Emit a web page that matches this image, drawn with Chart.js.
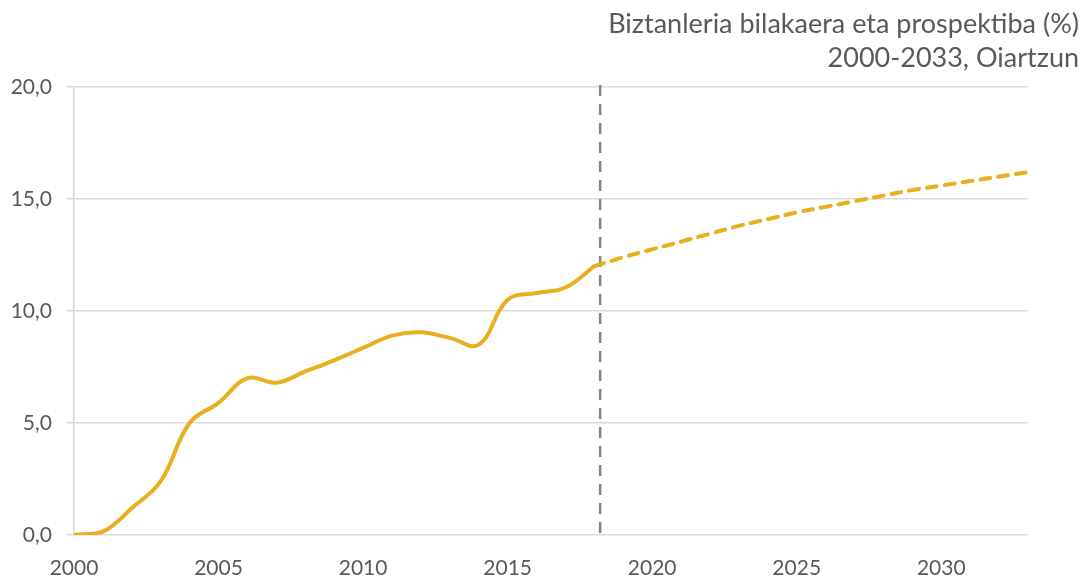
<!DOCTYPE html>
<html>
<head>
<meta charset="utf-8">
<script src="https://cdn.jsdelivr.net/npm/chart.js@4/dist/chart.umd.min.js"></script>
<style>
  html, body { margin: 0; padding: 0; background: #ffffff; }
  #wrap { position: relative; width: 1089px; height: 581px; }
</style>
</head>
<body>
<div id="wrap"><canvas id="c" width="1089" height="581"></canvas></div>
<script>
// ---- Data ----
const titleLines = ['Biztanleria bilakaera eta prospektiba (%)', '2000-2033, Oiartzun'];
const actualYears = [2000, 2001, 2002, 2003, 2004, 2005, 2006, 2007, 2008, 2009, 2010, 2011, 2012, 2013, 2014, 2015, 2016, 2017, 2018];
const actualValues = [0, 0.15, 1.2, 2.4, 5.0, 5.9, 7.0, 6.8, 7.3, 7.8, 8.35, 8.9, 9.05, 8.8, 8.5, 10.5, 10.8, 11.05, 12.0];
const projYears = [2018, 2019, 2020, 2021, 2022, 2023, 2024, 2025, 2026, 2027, 2028, 2029, 2030, 2031, 2032, 2033];
const projValues = [12.0, 12.4, 12.75, 13.1, 13.45, 13.8, 14.1, 14.4, 14.65, 14.9, 15.15, 15.4, 15.6, 15.8, 16.0, 16.2];
const separatorYear = 2018.2;
const xMin = 2000, xMax = 2033, xStep = 5;
const yMin = 0, yMax = 20, yStep = 5;

// ---- Styles ----
const lineColor = '#E8AF1E';
const textColor = '#595959';
const gridColor = '#D9D9D9';
const fontFamily = 'Lato, "Open Sans", sans-serif';

const actualPts = actualYears.map((x, i) => ({ x, y: actualValues[i] }));
const projPts = projYears.map((x, i) => ({ x, y: projValues[i] }));

const separatorPlugin = {
  id: 'separator',
  beforeDatasetsDraw(chart) {
    const { ctx, chartArea, scales } = chart;
    const px = scales.x.getPixelForValue(separatorYear);
    ctx.save();
    ctx.strokeStyle = '#878387';
    ctx.lineWidth = 2.5;
    ctx.setLineDash([11, 8]);
    ctx.beginPath();
    ctx.moveTo(px, chartArea.top - 2);
    ctx.lineTo(px, chartArea.bottom + 4);
    ctx.stroke();
    ctx.restore();
  }
};

const titlePlugin = {
  id: 'cornerTitle',
  afterDraw(chart) {
    const ctx = chart.ctx;
    ctx.save();
    ctx.fillStyle = textColor;
    ctx.font = '27px ' + fontFamily;
    ctx.textAlign = 'right';
    ctx.textBaseline = 'alphabetic';
    ctx.fillText(titleLines[0], 1079, 33);
    ctx.fillText(titleLines[1], 1079, 67);
    ctx.restore();
  }
};

new Chart(document.getElementById('c'), {
  type: 'line',
  data: {
    datasets: [
      {
        data: actualPts,
        borderColor: lineColor,
        borderWidth: 4,
        tension: 0.4,
        pointRadius: 0,
        fill: false,
        borderCapStyle: 'round'
      },
      {
        data: projPts,
        borderColor: lineColor,
        borderWidth: 4,
        tension: 0.4,
        pointRadius: 0,
        fill: false,
        borderDash: [10, 8],
        borderCapStyle: 'round'
      }
    ]
  },
  options: {
    responsive: false,
    animation: false,
    layout: { padding: { top: 87, right: 61, left: 0, bottom: 0 } },
    plugins: { legend: { display: false }, tooltip: { enabled: false }, title: { display: false } },
    scales: {
      x: {
        type: 'linear',
        min: xMin, max: xMax,
        grid: { display: false, drawTicks: false },
        border: { display: false },
        ticks: {
          stepSize: xStep,
          includeBounds: false,
          autoSkip: false,
          maxRotation: 0,
          padding: 21,
          color: textColor,
          font: { family: fontFamily, size: 21 },
          callback: v => String(v)
        },
        afterFit: s => { s.height = 46; }
      },
      y: {
        min: yMin, max: yMax,
        grid: { color: gridColor, lineWidth: 1.5, drawTicks: true, tickLength: 7, tickColor: gridColor },
        border: { display: true, color: gridColor, width: 1.5 },
        ticks: {
          stepSize: yStep,
          padding: 15,
          color: textColor,
          font: { family: fontFamily, size: 21 },
          callback: v => v.toFixed(1).replace('.', ',')
        },
        afterFit: s => { s.width = 74; }
      }
    }
  },
  plugins: [separatorPlugin, titlePlugin]
});
</script>
</body>
</html>
